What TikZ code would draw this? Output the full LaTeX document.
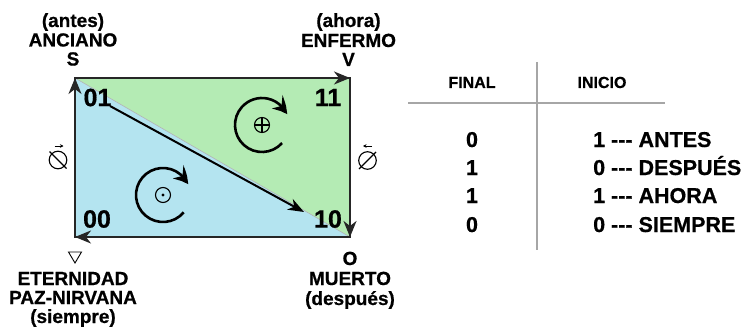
\documentclass[tikz,border=0pt]{standalone}
\usepackage{fontspec}
\setmainfont{Liberation Sans}
\newfontfamily\heavyfont[FakeBold=0.6]{Liberation Sans Bold}
\usetikzlibrary{arrows.meta,bending}
\definecolor{gfill}{RGB}{180,235,180}
\definecolor{bfill}{RGB}{180,228,240}
\tikzset{
  lbl/.style={font=\fontsize{19}{20}\selectfont\heavyfont, anchor=base, inner sep=0pt},
  num/.style={font=\fontsize{25}{26}\selectfont\heavyfont, inner sep=0pt},
  tbl/.style={font=\fontsize{21.5}{22}\selectfont\heavyfont, anchor=base, inner sep=0pt},
  hdr/.style={font=\fontsize{16}{17}\selectfont\heavyfont, anchor=base, inner sep=0pt},
  border/.style={line width=2.2pt, black!85},
  edgearrow/.style={line width=2.2pt, black!85, -{Stealth[length=16pt,width=13pt,inset=5pt]}},
  rot/.style={line width=2.6pt, -{Stealth[length=16pt,width=17pt,inset=6pt,bend]}},
  tline/.style={line width=1.4pt, gray!70},
  sym/.style={line width=1.1pt},
}
\begin{document}
\begin{tikzpicture}[x=1pt,y=-1pt]
\useasboundingbox (0,0) rectangle (753,329);
% corners
\coordinate (c01) at (75,78);
\coordinate (c11) at (350,78);
\coordinate (c10) at (350,237);
\coordinate (c00) at (75,237);
% fills
\fill[gfill] (c01) -- (c11) -- (c10) -- cycle;
\fill[bfill] (c01) -- (c10) -- (c00) -- cycle;
\draw[gray!60, line width=0.6pt] (c01) -- (c10);
% border and arrows
\draw[border] (c00) -- (c01) -- (c11) -- (c10) -- cycle;
\draw[edgearrow] (c00) -- (c01);
\draw[edgearrow] (c01) -- (c11);
\draw[edgearrow] (c11) -- (c10);
\draw[edgearrow] (c10) -- (c00);
% state labels
\node[num] (n01) at (97.5,97.5) {01};
\node[num] (n11) at (328,97.5) {11};
\node[num] (n00) at (97,219) {00};
\node[num] (n10) at (328,219) {10};
% diagonal arrow
\coordinate (dstart) at (110,106);
\coordinate (dend) at (304,212);
\draw[line width=2pt, -{Stealth[length=16pt,width=12pt,inset=5pt]}] (dstart) -- (dend);
% rotation arrows
\coordinate (rp) at (262,125);
\coordinate (rd) at (163,195);
\draw[rot] ([shift={(42:27)}]rp) arc[start angle=42, end angle=337, radius=27];
\draw[rot] ([shift={(40:27)}]rd) arc[start angle=40, end angle=337, radius=27];
% oplus
\draw[sym] (rp) circle[radius=7.5];
\draw[sym] ([xshift=-7.5pt]rp) -- ([xshift=7.5pt]rp);
\draw[sym] ([yshift=-7.5pt]rp) -- ([yshift=7.5pt]rp);
% odot
\draw[sym] (rd) circle[radius=7.5];
\fill (rd) circle[radius=1.6];
% null symbols with arrows
\coordinate (nl) at (58,160);
\coordinate (nr) at (367.5,160.5);
\draw[sym] (nl) circle[radius=8.8];
\draw[sym] ([shift={(-8.5,-8.5)}]nl) -- ([shift={(8.5,8.5)}]nl);
\draw[line width=0.8pt, -{Stealth[length=3.5pt,width=3.5pt]}] (54.5,146) -- (63.5,146);
\draw[sym] (nr) circle[radius=8.8];
\draw[sym] ([shift={(-8.5,8.5)}]nr) -- ([shift={(8.5,-8.5)}]nr);
\draw[line width=0.8pt, -{Stealth[length=3.5pt,width=3.5pt]}] (372,146) -- (363,146);
% triangle
\draw[line width=0.9pt] (68.5,252) -- (81.5,252) -- (75,263) -- cycle;
% corner texts
\node[lbl] (tla) at (73,27) {(antes)};
\node[lbl] (tlb) at (73,46.5) {ANCIANO};
\node[lbl] (tlc) at (73,65.5) {S};
\node[lbl] (tra) at (348.5,27) {(ahora)};
\node[lbl] (trb) at (348.5,47) {ENFERMO};
\node[lbl] (trc) at (348.5,66) {V};
\node[lbl] (bla) at (73,285) {ETERNIDAD};
\node[lbl] (blb) at (73,304) {PAZ-NIRVANA};
\node[lbl] (blc) at (73,323) {(siempre)};
\node[lbl] (bra) at (350,265) {O};
\node[lbl] (brb) at (350,285) {MUERTO};
\node[lbl] (brc) at (350,305) {(después)};
% table
\draw[tline] (537,62) -- (537,250);
\draw[tline] (408,103) -- (665,103);
\node[hdr] (hfinal) at (472,88) {FINAL};
\node[hdr] (hinicio) at (602,88) {INICIO};
\node[tbl] (f1) at (472,147) {0};
\node[tbl] (f2) at (472,175) {1};
\node[tbl] (f3) at (472,203) {1};
\node[tbl] (f4) at (472,232) {0};
\node[tbl, anchor=base west] (i1) at (593,147) {1 -{}-{}- ANTES};
\node[tbl, anchor=base west] (i2) at (593,175) {0 -{}-{}- DESPUÉS};
\node[tbl, anchor=base west] (i3) at (593,203) {1 -{}-{}- AHORA};
\node[tbl, anchor=base west] (i4) at (593,232) {0 -{}-{}- SIEMPRE};
\end{tikzpicture}
\end{document}
